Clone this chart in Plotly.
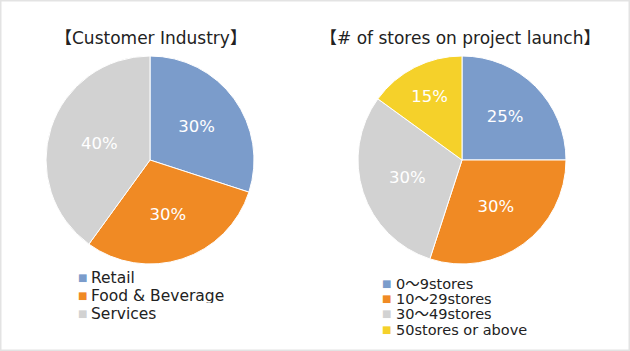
import plotly.graph_objects as go

W, H = 630, 351

ind_labels = ["Retail", "Food & Beverage", "Services"]
ind_values = [30, 30, 40]
ind_colors = ["#7b9ccb", "#f08a24", "#d2d2d2"]

st_labels = ["0〜9stores", "10〜29stores", "30〜49stores", "50stores or above"]
st_values = [25, 30, 30, 15]
st_colors = ["#7b9ccb", "#f08a24", "#d2d2d2", "#f5d12a"]

titles = ["【Customer Industry】", "【# of stores on project launch】"]

FONT = "DejaVu Sans, Noto Sans CJK JP"

def px_x(x):
    return x / W

def px_y(y):
    return 1 - y / H

fig = go.Figure()

R = 104
for cx, cy, labels, values, colors in [
    (150, 160, ind_labels, ind_values, ind_colors),
    (462, 160, st_labels, st_values, st_colors),
]:
    fig.add_trace(go.Pie(
        labels=labels, values=values, sort=False, direction="clockwise",
        rotation=0, marker=dict(colors=colors, line=dict(color="white", width=1)),
        texttemplate="%{percent:.0%}", textposition="inside",
        insidetextfont=dict(color="white", size=16.5, family=FONT),
        domain=dict(x=[px_x(cx - R), px_x(cx + R)], y=[px_y(cy + R), px_y(cy - R)]),
        showlegend=False, hoverinfo="label+percent",
    ))

ann = []
for cx, t in zip([151, 460], titles):
    ann.append(dict(x=px_x(cx), y=px_y(38), xref="paper", yref="paper", text=t,
                    showarrow=False, xanchor="center", yanchor="middle",
                    font=dict(size=17, family=FONT, color="#222")))

def legend(labels, colors, sqx, tx, ys, fs):
    for lab, col, y in zip(labels, colors, ys):
        ann.append(dict(x=px_x(sqx), y=px_y(y), xref="paper", yref="paper", text="■",
                        showarrow=False, xanchor="center", yanchor="middle",
                        font=dict(size=10, family=FONT, color=col), height=12))
        ann.append(dict(x=px_x(tx), y=px_y(y), xref="paper", yref="paper", text=lab,
                        showarrow=False, xanchor="left", yanchor="middle",
                        font=dict(size=fs, family=FONT, color="#222"), height=15))

legend(ind_labels, ind_colors, 82, 89, [277, 295, 313], 15.5)
legend(st_labels, st_colors, 386, 394, [283, 298, 313, 329], 14.5)

fig.update_layout(
    width=W, height=H, margin=dict(l=0, r=0, t=0, b=0),
    paper_bgcolor="white", plot_bgcolor="white",
    annotations=ann,
    shapes=[dict(type="rect", xref="paper", yref="paper", x0=0, y0=0, x1=1, y1=1,
                 line=dict(color="#e3e3e3", width=3))],
)

fig.write_html("out.html")
